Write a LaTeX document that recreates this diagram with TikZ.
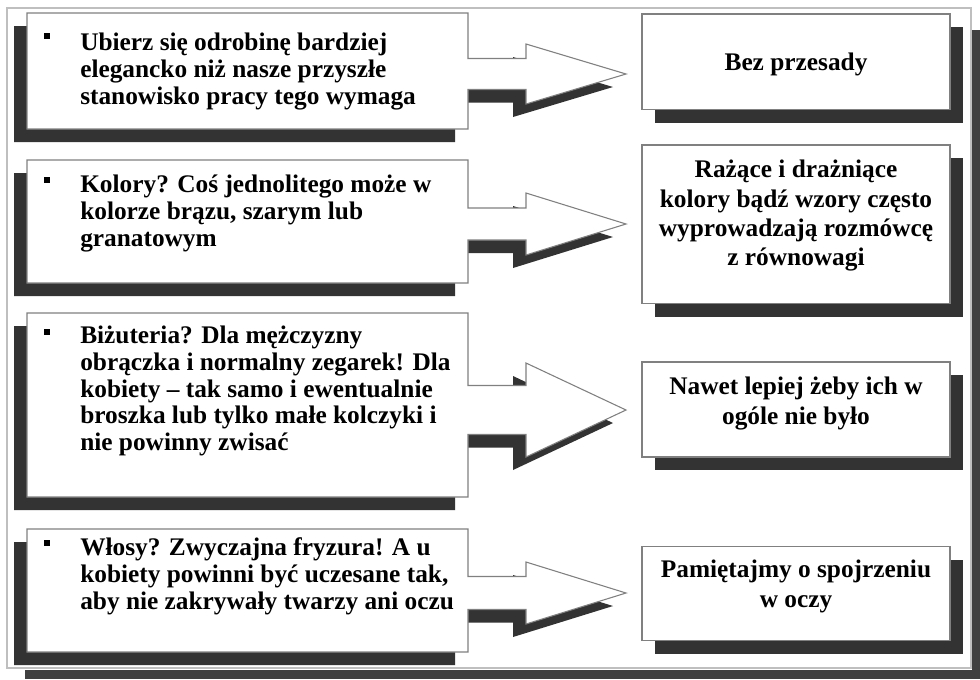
\documentclass[tikz,border=0pt]{standalone}
\usepackage{fontspec}
\setmainfont{Liberation Serif}
\tikzset{
  boxline/.style={draw=black!50, line width=0.8pt, fill=white},
  shadowfill/.style={fill=black!80},
  lefttext/.style={anchor=north west, inner sep=0pt, align=left, font=\bfseries\fontsize{19}{20}\selectfont},
  righttext/.style={anchor=north, inner sep=0pt, align=center, font=\bfseries\fontsize{19}{22}\selectfont},
  bulletsq/.style={fill=black, minimum size=4.5pt, inner sep=0pt, draw=none}
}
% #1 top, #2 bottom, #3 arrow centre y, #4 shaft half width, #5 head half height
\newcommand\leftcallout[5]{%
  \fill[shadowfill, shift={(-13,13)}] (27,#1) -- (468,#1) -- (468,{#3-#4}) -- (526,{#3-#4}) -- (526,{#3-#5}) -- (626,#3) -- (526,{#3+#5}) -- (526,{#3+#4}) -- (468,{#3+#4}) -- (468,#2) -- (27,#2) -- cycle;
  \draw[boxline] (27,#1) -- (468,#1) -- (468,{#3-#4}) -- (526,{#3-#4}) -- (526,{#3-#5}) -- (626,#3) -- (526,{#3+#5}) -- (526,{#3+#4}) -- (468,{#3+#4}) -- (468,#2) -- (27,#2) -- cycle;
}
\newcommand\rightbox[2]{%
  \fill[shadowfill] (655,{#1+13}) rectangle (963,{#2+13});
  \draw[boxline] (642,#1) rectangle (950,#2);
}
\begin{document}
\begin{tikzpicture}[x=0.75pt, y=-0.75pt]
\fill[white] (0,0) rectangle (980,679);
\useasboundingbox (0,0) rectangle (980,679);
% outer frame
\draw[black!25, line width=0.8pt] (7,668) -- (7,8) -- (971,8) -- (971,668) -- cycle;
\fill[black!75] (972,30) rectangle (980,679);
\fill[black!75] (25,670) rectangle (980,679);

% left callouts
\leftcallout{13}{129}{74}{15.5}{30}
\leftcallout{160}{283}{224}{16}{31}
\leftcallout{313}{497}{410}{24.5}{47}
\leftcallout{529}{652}{593}{16.5}{31}

% right boxes
\rightbox{14}{109.5}
\rightbox{145}{303.5}
\rightbox{362}{457}
\rightbox{546.5}{640.5}

% bullets
\node[bulletsq] (b1) at (47,36) {};
\node[bulletsq] (b2) at (47,180) {};
\node[bulletsq] (b3) at (47,332) {};
\node[bulletsq] (b4) at (47,543) {};

% left texts
\node[lefttext] (l1) at (80,32) {\strut Ubierz się odrobinę bardziej\\elegancko niż nasze przyszłe\\stanowisko pracy tego wymaga};
\node[lefttext] (l2) at (80,174) {\strut Kolory? Coś jednolitego może w\\kolorze brązu, szarym lub\\granatowym};
\node[lefttext] (l3) at (80,325) {\strut Biżuteria? Dla mężczyzny\\obrączka i normalny zegarek! Dla\\kobiety – tak samo i ewentualnie\\broszka lub tylko małe kolczyki i\\nie powinny zwisać};
\node[lefttext] (l4) at (80,537) {\strut Włosy? Zwyczajna fryzura! A u\\kobiety powinni być uczesane tak,\\aby nie zakrywały twarzy ani oczu};

% right texts
\node[righttext] (r1) at (796,50) {\strut Bez przesady};
\node[righttext] (r2) at (796,157) {\strut Rażące i drażniące\\kolory bądź wzory często\\wyprowadzają rozmówcę\\z równowagi};
\node[righttext] (r3) at (796,374) {\strut Nawet lepiej żeby ich w\\ogóle nie było};
\node[righttext] (r4) at (796,557) {\strut Pamiętajmy o spojrzeniu\\w oczy};
\end{tikzpicture}
\end{document}
